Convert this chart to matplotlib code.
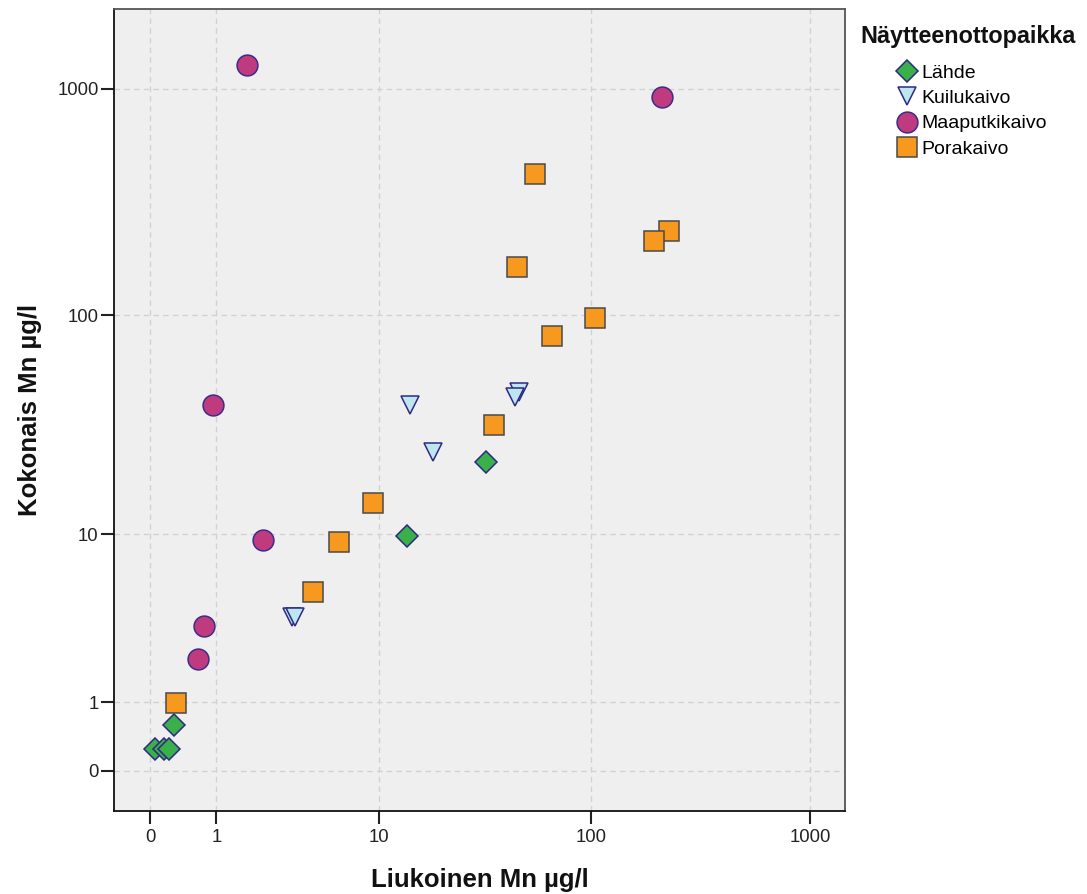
import numpy as np
import matplotlib
matplotlib.use("Agg")
import matplotlib.pyplot as plt
from matplotlib.lines import Line2D

plt.rcParams['font.family'] = ['Liberation Sans', 'DejaVu Sans']

# Dissolved (x) vs total (y) manganese, µg/l, by sampling site type
lahde_x = [32.7, 13.7, 0.285, 0.05, 0.16, 0.22]
lahde_y = [21.8, 9.85, 0.594, 0.25, 0.25, 0.25]

kuilu_x = [14.2, 18.4, 46.7, 44.6, 3.41, 3.54]
kuilu_y = [39.7, 24.4, 45.6, 43.3, 3.73, 3.73]

maaputki_x = [1.75, 211.4, 0.927, 2.26, 0.76, 0.647]
maaputki_y = [1275, 920, 39.7, 9.38, 3.35, 2.10]

pora_x = [55.1, 45.4, 227.6, 194.4, 104.4, 66.4, 35.7, 9.29, 6.26, 4.49, 0.313]
pora_y = [421, 164.5, 236.6, 214.3, 97.7, 81.0, 32.3, 14.06, 9.2, 5.15, 0.986]

ticks = [0, 1, 10, 100, 1000]
tick_labels = ['0', '1', '10', '100', '1000']

series = [
    ('Lähde', lahde_x, lahde_y, 'D', 10.7, '#39B04A', '#2D2A80'),
    ('Kuilukaivo', kuilu_x, kuilu_y, 'v', 13, '#BDE6F0', '#2D2A80'),
    ('Maaputkikaivo', maaputki_x, maaputki_y, 'o', 15, '#C03A80', '#3B2C8A'),
    ('Porakaivo', pora_x, pora_y, 's', 15, '#F7991E', '#4A4A4A'),
]


# log(x+1) axis so that zero values can be shown
def fwd(v):
    v = np.asarray(v, dtype=float)
    return np.log10(np.clip(v + 1, 1e-9, None))


def inv(t):
    return 10 ** np.asarray(t, dtype=float) - 1


fig = plt.figure(figsize=(10.87, 8.94), dpi=100)
ax = fig.add_axes([0.1049, 0.0932, 0.6725, 0.8967])
ax.set_facecolor('#EFEFEF')
ax.set_xscale('function', functions=(fwd, inv))
ax.set_yscale('function', functions=(fwd, inv))
ax.set_xlim(-0.314, 1441)
ax.set_ylim(-0.332, 2248)

ax.set_xticks(ticks)
ax.set_xticklabels(tick_labels)
ax.set_yticks(ticks)
ax.set_yticklabels(tick_labels)
ax.minorticks_off()
ax.tick_params(axis='both', length=9.5, width=1.5, color='#222222',
               labelsize=13.3, labelcolor='#222222', pad=1.5)
ax.tick_params(axis='x', pad=3.5)
ax.grid(True, color='#D2D2D2', linestyle=(0, (4, 3)), linewidth=1)
ax.set_axisbelow(True)

for side in ['left', 'bottom']:
    ax.spines[side].set_color('#111111')
    ax.spines[side].set_linewidth(1.3)
for side in ['top', 'right']:
    ax.spines[side].set_color('#555555')
    ax.spines[side].set_linewidth(1.3)

handles = []
for name, xs, ys, mk, ms, fc, ec in series:
    ax.plot(xs, ys, linestyle='none', marker=mk, markersize=ms,
            markerfacecolor=fc, markeredgecolor=ec, markeredgewidth=1.1)
    handles.append(Line2D([], [], linestyle='none', marker=mk, markersize=ms,
                          markerfacecolor=fc, markeredgecolor=ec,
                          markeredgewidth=1.1, label=name))

fig.text(479.5 / 1087, 1 - 880 / 894, 'Liukoinen Mn µg/l', ha='center',
         va='center', fontsize=18.5, fontweight='bold', color='#111111')
fig.text(30 / 1087, 1 - 410 / 894, 'Kokonais Mn µg/l', ha='center',
         va='center', rotation=90, fontsize=18.5, fontweight='bold',
         color='#111111')

fig.text(860 / 1087, 1 - 36 / 894, 'Näytteenottopaikka', ha='left',
         va='center', fontsize=16.8, fontweight='bold', color='#111111')
fig.legend(handles=handles, loc='upper left',
           bbox_to_anchor=(897 / 1087, 1 - 64.5 / 894), frameon=False,
           fontsize=14, handlelength=1.0, handletextpad=0.27,
           labelspacing=0.39, borderpad=0, borderaxespad=0)

fig.savefig('out.png', dpi=100)
